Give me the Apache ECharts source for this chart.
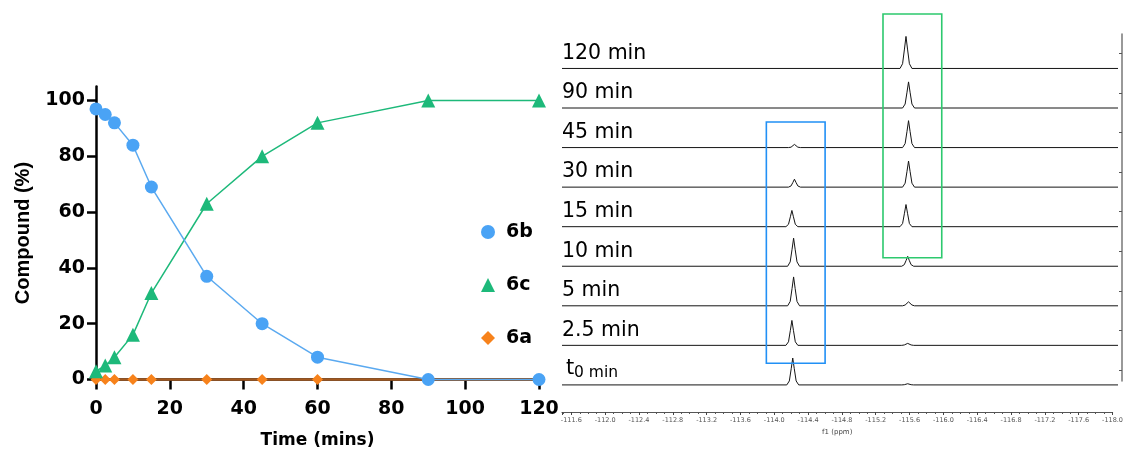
<!DOCTYPE html>
<html>
<head>
<meta charset="utf-8">
<script src="https://cdn.jsdelivr.net/npm/echarts@6/dist/echarts.min.js"></script>
<style>
  html, body { margin: 0; padding: 0; background: #fff; }
  #chart { width: 1126px; height: 455px; }
</style>
</head>
<body>
<div id="chart"></div>
<script>
// ---- Kinetics: compound percentage over time ----
const times = [0, 2.5, 5, 10, 15, 30, 45, 60, 90, 120];
const compound6b = [97, 95, 92, 84, 69, 37, 20, 8, 0, 0];
const compound6c = [3, 5, 8, 16, 31, 63, 80, 92, 100, 100];
const compound6a = [0, 0, 0, 0, 0, 0, 0, 0, 0, 0];
const percentTicks = [0, 20, 40, 60, 80, 100];

// ---- 19F NMR stack: [ppm, intensity] per time point (bottom to top) ----
const traceNames = ['t0', '2.5 min', '5 min', '10 min', '15 min', '30 min', '45 min', '90 min', '120 min'];
const spec_t0 = [[-111.49,0],[-114.13,0],[-114.16,10],[-114.182,41],[-114.20,68],[-114.218,41],[-114.24,10],[-114.27,0],
  [-115.48,0],[-115.51,0.5],[-115.532,2],[-115.55,3],[-115.568,2],[-115.59,0.5],[-115.62,0],[-118.02,0]];
const spec_2_5 = [[-111.49,0],[-114.12,0],[-114.15,9],[-114.172,38],[-114.19,63],[-114.208,38],[-114.23,9],[-114.26,0],
  [-115.48,0],[-115.51,1],[-115.532,3],[-115.55,5],[-115.568,3],[-115.59,1],[-115.62,0],[-118.02,0]];
const spec_5 = [[-111.49,0],[-114.14,0],[-114.17,11],[-114.192,44],[-114.21,73],[-114.228,44],[-114.25,11],[-114.28,0],
  [-115.49,0],[-115.52,2],[-115.542,6],[-115.56,10],[-115.578,6],[-115.60,2],[-115.63,0],[-118.02,0]];
const spec_10 = [[-111.49,0],[-114.14,0],[-114.17,11],[-114.192,43],[-114.21,71],[-114.228,43],[-114.25,11],[-114.28,0],
  [-115.48,0],[-115.51,4],[-115.532,15],[-115.55,25],[-115.568,15],[-115.59,4],[-115.62,0],[-118.02,0]];
const spec_15 = [[-111.49,0],[-114.12,0],[-114.15,6],[-114.172,25],[-114.19,41],[-114.208,25],[-114.23,6],[-114.26,0],
  [-115.46,0],[-115.49,8],[-115.512,34],[-115.53,56],[-115.548,34],[-115.57,8],[-115.60,0],[-118.02,0]];
const spec_30 = [[-111.49,0],[-114.15,0],[-114.18,3],[-114.202,12],[-114.22,20],[-114.238,12],[-114.26,3],[-114.29,0],
  [-115.49,0],[-115.52,10],[-115.542,40],[-115.56,66],[-115.578,40],[-115.60,10],[-115.63,0],[-118.02,0]];
const spec_45 = [[-111.49,0],[-114.15,0],[-114.18,1],[-114.202,5],[-114.22,8],[-114.238,5],[-114.26,1],[-114.29,0],
  [-115.49,0],[-115.52,10],[-115.542,41],[-115.56,68],[-115.578,41],[-115.60,10],[-115.63,0],[-118.02,0]];
const spec_90 = [[-111.49,0],
  [-115.49,0],[-115.52,10],[-115.542,40],[-115.56,66],[-115.578,40],[-115.60,10],[-115.63,0],[-118.02,0]];
const spec_120 = [[-111.49,0],
  [-115.46,0],[-115.49,12],[-115.512,49],[-115.53,81],[-115.548,49],[-115.57,12],[-115.60,0],[-118.02,0]];
const spectra = [spec_t0, spec_2_5, spec_5, spec_10, spec_15, spec_30, spec_45, spec_90, spec_120];

// highlighted regions: [ppm from, ppm to] x [stack level from, to]
const boxSM = { ppm: [-113.89, -114.58], level: [16.7, 626.6], color: '#2190f5' };
const boxProduct = { ppm: [-115.26, -115.95], level: [283.6, 899.6], color: '#2dc96e' };

const PPM_MIN = -118.02, PPM_MAX = -111.49;
const PPM_AXIS_MIN = -118.0, PPM_STEP = 0.4;
const PX_PER_PPM = 556 / (PPM_MAX - PPM_MIN);
const STEP = 100;          // vertical spacing between stacked traces
const BASE_SHIFT = -38;    // baseline sits below each tick level

const FONT = 'DejaVu Sans';
const BLUE = '#4aa3f5', GREEN = '#1db97a', ORANGE = '#f7821b';

const pair = (xs, ys) => xs.map((x, i) => [x, ys[i]]);

const spectraSeries = spectra.map((pts, i) => ({
  type: 'line',
  xAxisIndex: 1, yAxisIndex: 1,
  data: pts.map(p => [p[0], i * STEP + BASE_SHIFT + p[1]]),
  showSymbol: false, symbol: 'none', clip: false, silent: true,
  lineStyle: { color: '#151515', width: 1 }
}));

const chart = echarts.init(document.getElementById('chart'), null, { renderer: 'canvas' });

const option = {
  animation: false,
  backgroundColor: '#fff',
  textStyle: { fontFamily: FONT },
  grid: [
    { left: 96, top: 86.6, width: 443, height: 292.9 },
    { left: 562, top: 34, width: 556, height: 347 },
    { left: 562, top: 34, width: (PPM_MAX - PPM_AXIS_MIN) * PX_PER_PPM, height: 378 }
  ],
  legend: {
    orient: 'vertical', left: 476, top: 217,
    itemWidth: 14, itemHeight: 14, itemGap: 33,
    textStyle: { fontFamily: FONT, fontWeight: 'bold', fontSize: 19, color: '#000', lineHeight: 20, padding: [0, 0, 0, 6] },
    data: [
      { name: '6b', icon: 'circle' },
      { name: '6c', icon: 'triangle' },
      { name: '6a', icon: 'diamond' }
    ]
  },
  xAxis: [
    {
      gridIndex: 0, type: 'value', min: 0, max: 120, interval: 20,
      name: 'Time (mins)', nameLocation: 'middle', nameGap: 53,
      nameTextStyle: { fontFamily: FONT, fontWeight: 'bold', fontSize: 17, color: '#000' },
      axisLine: { onZero: false, lineStyle: { color: '#000', width: 2.5 } },
      axisTick: { length: 10, lineStyle: { color: '#000', width: 2.5 } },
      axisLabel: { margin: 20, fontFamily: FONT, fontWeight: 'bold', fontSize: 19, color: '#000' },
      splitLine: { show: false }
    },
    {
      gridIndex: 1, type: 'value', min: PPM_MIN, max: PPM_MAX, inverse: true, show: false
    },
    {
      gridIndex: 2, type: 'value', min: PPM_AXIS_MIN, max: PPM_MAX, inverse: true, interval: PPM_STEP,
      name: 'f1 (ppm)', nameLocation: 'middle', nameGap: 16,
      nameTextStyle: { fontFamily: FONT, fontSize: 7, color: '#444' },
      axisLine: { onZero: false, lineStyle: { color: '#555', width: 1.2 } },
      axisTick: { length: 3, lineStyle: { color: '#444', width: 1 } },
      minorTick: { show: true, splitNumber: 4, length: 2, lineStyle: { color: '#555', width: 1 } },
      axisLabel: { margin: 5, fontFamily: FONT, fontSize: 6.5, color: '#555', showMaxLabel: false,
        formatter: v => v.toFixed(1) },
      splitLine: { show: false },
      minorSplitLine: { show: false }
    }
  ],
  yAxis: [
    {
      gridIndex: 0, type: 'value', min: 0, max: 105,
      name: 'Compound (%)', nameLocation: 'middle', nameGap: 63,
      nameTextStyle: { fontFamily: 'Liberation Sans', fontWeight: 'bold', fontSize: 20, color: '#000' },
      axisLine: { show: true, onZero: false, lineStyle: { color: '#000', width: 2.5 } },
      axisTick: { show: true, customValues: percentTicks, length: 9, lineStyle: { color: '#000', width: 2.5 } },
      axisLabel: { customValues: percentTicks, margin: 11, fontFamily: FONT, fontWeight: 'bold', fontSize: 19, color: '#000' },
      splitLine: { show: false }
    },
    {
      gridIndex: 1, type: 'value', min: -28.1, max: 849.1, position: 'right', offset: 4,
      axisLine: { show: true, onZero: false, lineStyle: { color: '#777', width: 1.5 } },
      axisTick: { show: true, inside: true, length: 3, customValues: [0, 100, 200, 300, 400, 500, 600, 700, 800],
        lineStyle: { color: '#555', width: 1 } },
      axisLabel: { show: false },
      splitLine: { show: false }
    },
    {
      gridIndex: 2, type: 'value', min: 0, max: 1, show: false
    }
  ],
  series: [
    {
      name: '6a', type: 'line', xAxisIndex: 0, yAxisIndex: 0,
      data: pair(times, compound6a), symbol: 'diamond', symbolSize: 11, clip: false,
      itemStyle: { color: ORANGE }, lineStyle: { color: '#a3581f', width: 2.5 }, z: 3
    },
    {
      name: '6c', type: 'line', xAxisIndex: 0, yAxisIndex: 0,
      data: pair(times, compound6c), symbol: 'triangle', symbolSize: 14, clip: false,
      itemStyle: { color: GREEN }, lineStyle: { color: GREEN, width: 1.5 }, z: 4
    },
    {
      name: '6b', type: 'line', xAxisIndex: 0, yAxisIndex: 0,
      data: pair(times, compound6b), symbol: 'circle', symbolSize: 13, clip: false,
      itemStyle: { color: BLUE }, lineStyle: { color: '#5aa9f0', width: 1.5 }, z: 5
    },
    ...spectraSeries
  ]
};

chart.setOption(option);

// Trace labels and highlight boxes, placed through the spectra axes
const toPx = (ppm, level) => chart.convertToPixel({ xAxisIndex: 1, yAxisIndex: 1 }, [ppm, level]);
const graphics = [];

traceNames.forEach((name, i) => {
  const y = toPx(PPM_MAX, i * STEP)[1];
  if (name === 't0') {
    graphics.push({ type: 'text', silent: true, style: { text: 't', x: 566, y: y - 1, fill: '#000',
      font: '21px "DejaVu Sans"', textVerticalAlign: 'middle', verticalAlign: 'middle' } });
    graphics.push({ type: 'text', silent: true, style: { text: '0 min', x: 574, y: y + 3, fill: '#000',
      font: '15.5px "DejaVu Sans"', textVerticalAlign: 'middle', verticalAlign: 'middle' } });
  } else {
    graphics.push({ type: 'text', silent: true, style: { text: name, x: 562, y: y, fill: '#000',
      font: '20.5px "DejaVu Sans"', textVerticalAlign: 'middle', verticalAlign: 'middle' } });
  }
});

[boxSM, boxProduct].forEach(b => {
  const p1 = toPx(b.ppm[0], b.level[1]);
  const p2 = toPx(b.ppm[1], b.level[0]);
  graphics.push({ type: 'rect', silent: true, z: 10,
    shape: { x: p1[0], y: p1[1], width: p2[0] - p1[0], height: p2[1] - p1[1] },
    style: { fill: 'none', stroke: b.color, lineWidth: 1.6 } });
});

chart.setOption({ graphic: graphics });
</script>
</body>
</html>
